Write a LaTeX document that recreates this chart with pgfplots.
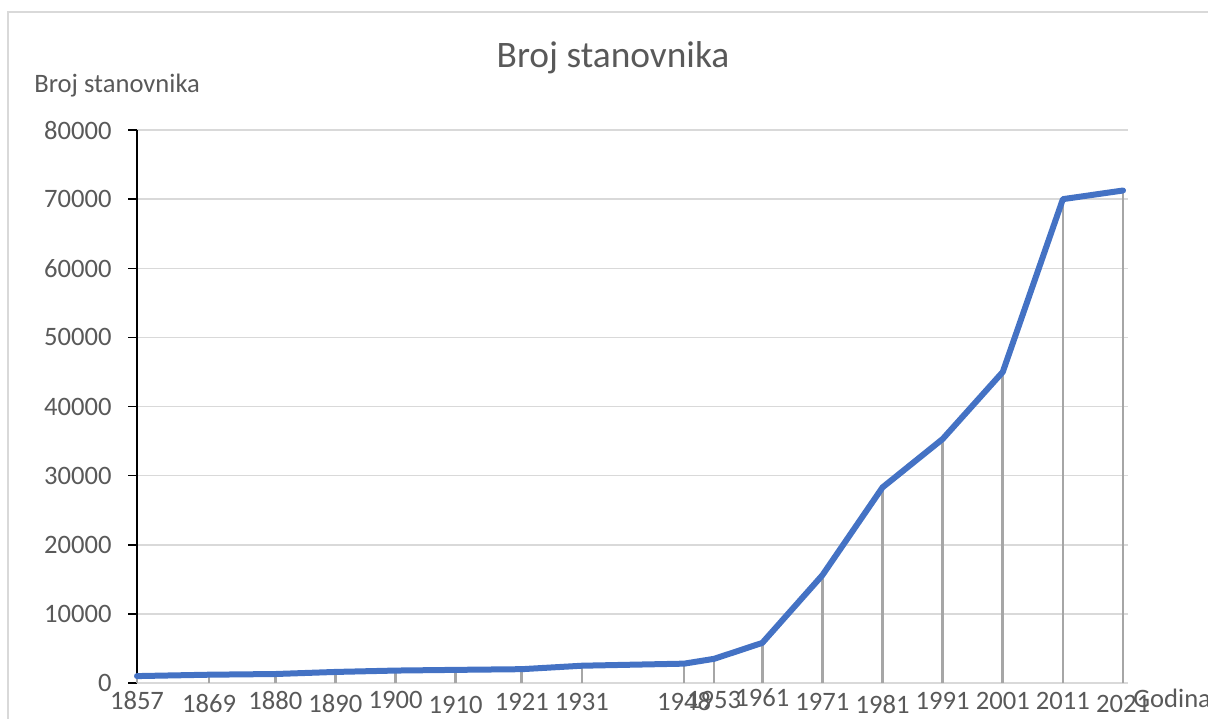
\documentclass[border=0pt]{standalone}
\usepackage{pgfplots}
\pgfplotsset{compat=1.18}
\usepackage{pgfplotstable}
\usepackage{fontspec}
\setmainfont{Carlito}
\definecolor{txt}{HTML}{595959}
\definecolor{gridc}{HTML}{D9D9D9}
\definecolor{dropc}{HTML}{A6A6A6}
\definecolor{lineblue}{HTML}{4472C4}
\pgfplotstableread{
year pop
1857 1000
1869 1200
1880 1300
1890 1600
1900 1800
1910 1900
1921 2000
1931 2500
1948 2800
1953 3500
1961 5800
1971 15600
1981 28300
1991 35300
2001 45000
2011 70000
2021 71250
}\data
\begin{document}
\begin{tikzpicture}[x=1pt,y=1pt]
\path[use as bounding box] (0,0) rectangle (604,359);
\draw[gridc, line width=0.75pt] (4,-5) -- (4,353) -- (615,353);
\begin{axis}[
  at={(68.5pt,17.5pt)}, anchor=south west,
  scale only axis, width=495.5pt, height=276.5pt,
  xmin=1857, xmax=2021.83, ymin=0, ymax=80000,
  axis lines*=left,
  x axis line style={gridc, line width=0.9pt},
  y axis line style={black, line width=0.75pt},
  ytick={0,10000,...,80000},
  scaled ticks=false,
  ymajorgrids, grid style={gridc, line width=0.75pt},
  tick align=outside, major tick length=4.5pt,
  ytick style={black, line width=0.75pt},
  xtick style={draw=none},
  xtick={1857,1869,1880,1890,1900,1910,1921,1931,1948,1953,1961,1971,1981,1991,2001,2011,2021},
  xticklabels={\raisebox{0.5pt}{1857},\raisebox{-1pt}{1869},\raisebox{0.25pt}{1880},\raisebox{-1pt}{1890},\raisebox{1pt}{1900},\raisebox{-1.5pt}{1910},1921,1931,1948,\raisebox{0.85pt}{1953},\raisebox{1.75pt}{1961},1971,\raisebox{-1.5pt}{1981},\raisebox{0.25pt}{1991},\raisebox{0.25pt}{2001},\raisebox{0.25pt}{2011},\raisebox{-1.25pt}{2021}},
  ticklabel style={font=\fontsize{13.3}{15}\selectfont, text=txt},
  xticklabel style={anchor=base, inner sep=0pt, yshift=-9pt},
  yticklabel style={anchor=east, inner sep=0pt, xshift=-8pt},
  /pgf/number format/1000 sep={},
  /pgf/number format/assume math mode=true,
  clip=false,
]
\addplot[ycomb, dropc, line width=1.3pt, no marks] table[x=year,y=pop] {\data};
\addplot[lineblue, line width=3pt, line join=round, line cap=round, no marks] table[x=year,y=pop] {\data};
\end{axis}
\node[anchor=base, inner sep=0pt, text=txt, font=\fontsize{18.7}{22}\selectfont] at (306.5,325) {Broj stanovnika};
\node[anchor=base west, inner sep=0pt, text=txt, font=\fontsize{13.3}{15}\selectfont] at (17,312.5) {Broj stanovnika};
\node[anchor=base west, inner sep=0pt, text=txt, font=\fontsize{13.3}{15}\selectfont] at (566.5,5.5) {Godina};
\end{tikzpicture}
\end{document}
